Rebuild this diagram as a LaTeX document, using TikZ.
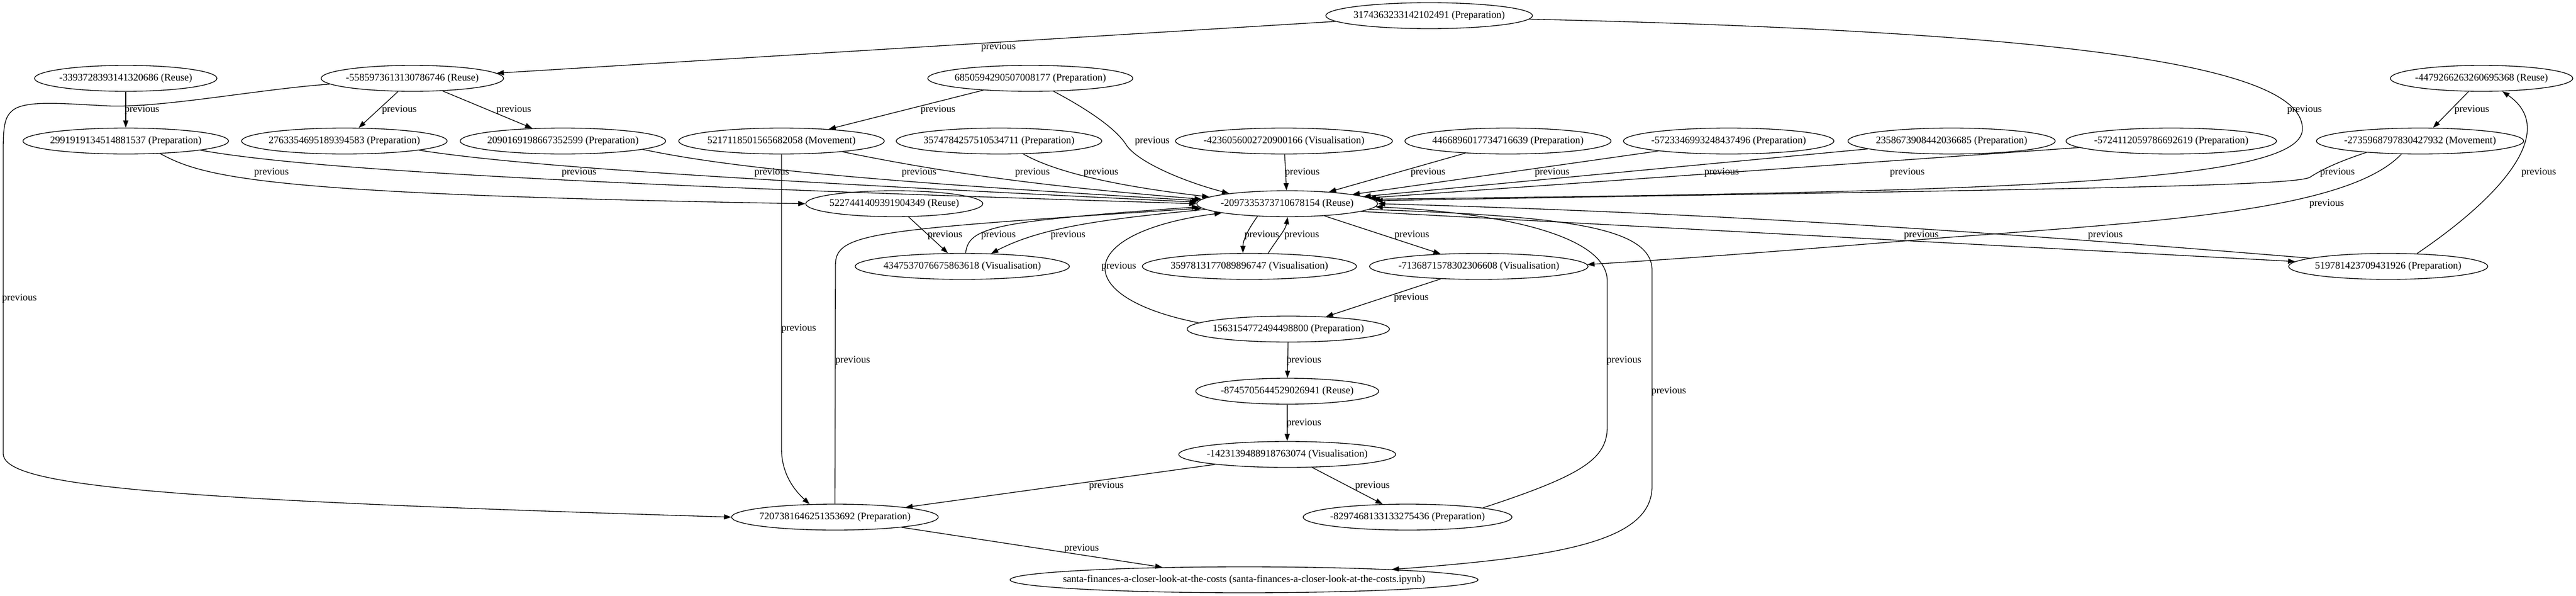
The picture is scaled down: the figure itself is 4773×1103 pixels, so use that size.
\documentclass[tikz,border=0pt]{standalone}
\usepackage{fontspec}
\setmainfont{Liberation Serif}
\usetikzlibrary{shapes.geometric,arrows.meta}
\newcommand{\mbx}[1]{\makebox[0pt]{#1}}
\begin{document}
\begin{tikzpicture}[x=0.75pt,y=-0.75pt,
  nd/.style={draw, ellipse, line width=1pt, minimum width=#1*0.75pt, minimum height=36pt, inner sep=0pt, font=\fontsize{14}{16}\selectfont},
  conn/.style={line width=1pt, -{Triangle[length=10pt,width=7pt]}},
  lbl/.style={inner sep=0pt, font=\fontsize{14}{16}\selectfont}]
\useasboundingbox (0,0) rectangle (4773,1103);
% nodes
\node[nd=383] (nA) at (2648,29) {\mbx{3174363233142102491 (Preparation)}};
\node[nd=338] (nB) at (233,145) {\mbx{-3393728393141320686 (Reuse)}};
\node[nd=338] (nC) at (764,145) {\mbx{-5585973613130786746 (Reuse)}};
\node[nd=380] (nD) at (1909,145) {\mbx{6850594290507008177 (Preparation)}};
\node[nd=338] (nE) at (4598,145) {\mbx{-4479266263260695368 (Reuse)}};
\node[nd=381] (nF) at (233,261) {\mbx{2991919134514881537 (Preparation)}};
\node[nd=381] (nG) at (638,261) {\mbx{2763354695189394583 (Preparation)}};
\node[nd=381] (nH) at (1043,261) {\mbx{2090169198667352599 (Preparation)}};
\node[nd=381] (nI) at (1448,261) {\mbx{5217118501565682058 (Movement)}};
\node[nd=381] (nJ) at (1851,261) {\mbx{3574784257510534711 (Preparation)}};
\node[nd=402] (nK) at (2379,261) {\mbx{-4236056002720900166 (Visualisation)}};
\node[nd=382] (nN) at (2794,261) {\mbx{4466896017734716639 (Preparation)}};
\node[nd=390] (nO) at (3203,261) {\mbx{-5723346993248437496 (Preparation)}};
\node[nd=384] (nP) at (3616,261) {\mbx{2358673908442036685 (Preparation)}};
\node[nd=390] (nQ) at (4023,261) {\mbx{-5724112059786692619 (Preparation)}};
\node[nd=384] (nR) at (4484,261) {\mbx{-2735968797830427932 (Movement)}};
\node[nd=328] (nL) at (1657,377) {\mbx{5227441409391904349 (Reuse)}};
\node[nd=335] (nM) at (2385,377) {\mbx{-2097335373710678154 (Reuse)}};
\node[nd=397] (nS) at (1783,493) {\mbx{4347537076675863618 (Visualisation)}};
\node[nd=397] (nT) at (2315,493) {\mbx{3597813177089896747 (Visualisation)}};
\node[nd=405] (nU) at (2740,493) {\mbx{-7136871578302306608 (Visualisation)}};
\node[nd=369] (nAA) at (4425,493) {\mbx{519781423709431926 (Preparation)}};
\node[nd=375] (nV) at (2387,609) {\mbx{1563154772494498800 (Preparation)}};
\node[nd=339] (nW) at (2385,724) {\mbx{-8745705644529026941 (Reuse)}};
\node[nd=402] (nX) at (2385,841) {\mbx{-1423139488918763074 (Visualisation)}};
\node[nd=383] (nY) at (1547,957) {\mbx{7207381646251353692 (Preparation)}};
\node[nd=387] (nZ) at (2608,957) {\mbx{-8297468133133275436 (Preparation)}};
\node[nd=867] (nEnd) at (2305,1073) {\mbx{santa-finances-a-closer-look-at-the-costs (santa-finances-a-closer-look-at-the-costs.ipynb)}};
% edges
\draw[conn] (nA) -- (nC);
\draw[conn] (nA.-2) .. controls (3900,60) and (4270,130) .. (4266,240) .. controls (4262,340) and (3700,355) .. (nM.3);
\draw[conn] (nB) -- (nF);
\draw[conn] (nC) -- (nG);
\draw[conn] (nC) -- (nH);
\draw[conn] (nC.184) .. controls (480,165) and (300,200) .. (200,196) .. controls (120,192) and (60,186) .. (30,200) .. controls (8,212) and (6,232) .. (6,280) -- (6,840) .. controls (8,900) and (300,925) .. (nY.180);
\draw[conn] (nD) -- (nI);
\draw[conn] (nD.-29) .. controls (2020,205) and (2070,240) .. (2088,270) .. controls (2110,300) and (2190,335) .. (nM.170);
\draw[conn] (nF.-20) .. controls (380,330) and (500,360) .. (nL.180);
\draw[conn] (nF.-7) .. controls (550,310) and (1000,340) .. (nM.180);
\draw[conn] (nG.-7) .. controls (950,305) and (1300,330) .. (nM.179);
\draw[conn] (nH.-6) .. controls (1350,310) and (1600,335) .. (nM.178);
\draw[conn] (nI.-10) .. controls (1800,330) and (2000,350) .. (nM.177);
\draw[conn] (nJ.-28) .. controls (1940,310) and (2030,340) .. (nM.175);
\draw[conn] (nK) -- (nM);
\draw[conn] (nN) -- (nM);
\draw[conn] (nO) -- (nM);
\draw[conn] (nP) -- (nM);
\draw[conn] (nQ) -- (nM);
\draw[conn] (nR.192) .. controls (4330,300) and (4300,315) .. (4280,328) .. controls (4250,345) and (3800,350) .. (nM.2);
\draw[conn] (nR.215) .. controls (4350,390) and (4000,410) .. (3600,440) .. controls (3300,465) and (3100,480) .. (nU.1);
\draw[conn] (nE) -- (nR);
\draw[conn] (nAA.24) .. controls (4640,360) and (4740,240) .. (nE.-32);
\draw[conn] (nM.-6) -- (nAA.177);
\draw[conn] (nAA.174) .. controls (3700,430) and (3200,395) .. (nM.0);
\draw[conn] (nM.203) .. controls (2312,425) and (2303,445) .. (nT.116);
\draw[conn] (nT.35) .. controls (2368,440) and (2382,425) .. (nM.272);
\draw[conn] (nM) -- (nU);
\draw[conn] (nU) -- (nV);
\draw[conn] (nV.176) .. controls (1980,550) and (1990,430) .. (nM.188);
\draw[conn] (nV) -- (nW);
\draw[conn] (nW) -- (nX);
\draw[conn] (nX) -- (nY);
\draw[conn] (nX) -- (nZ);
\draw[conn] (nY) -- (nEnd);
\draw[conn] (nZ.7) .. controls (2930,880) and (2978,850) .. (2978,790) -- (2978,520) .. controls (2978,440) and (2800,395) .. (nM.-2);
\draw[conn] (nM.-4) .. controls (2900,400) and (3061,420) .. (3061,500) -- (3061,900) .. controls (3061,1000) and (2900,1030) .. (nEnd.4);
\draw[conn] (nL) -- (nS);
\draw[conn] (nS.76) .. controls (1795,420) and (1840,410) .. (nM.182);
\draw[conn] (nM.184) .. controls (2050,405) and (1930,420) .. (nS.24);
\draw[conn] (nY.90) -- (1548,490) .. controls (1548,430) and (1620,425) .. (nM.183);
\draw[conn] (nI.270) -- (1448,830) .. controls (1448,880) and (1475,910) .. (nY.153);
% labels
\node[lbl] (t1) at (1850,87) {previous};
\node[lbl] (t2) at (4270,203) {previous};
\node[lbl] (t3) at (263,203) {previous};
\node[lbl] (t4) at (740,203) {previous};
\node[lbl] (t5) at (952,203) {previous};
\node[lbl] (t6) at (36,552) {previous};
\node[lbl] (t7) at (1738,203) {previous};
\node[lbl] (t8) at (2135,261) {previous};
\node[lbl] (t9) at (503,319) {previous};
\node[lbl] (t10) at (1073,319) {previous};
\node[lbl] (t11) at (1430,319) {previous};
\node[lbl] (t12) at (1703,319) {previous};
\node[lbl] (t13) at (1913,319) {previous};
\node[lbl] (t14) at (2040,319) {previous};
\node[lbl] (t15) at (2413,319) {previous};
\node[lbl] (t16) at (2646,319) {previous};
\node[lbl] (t17) at (2876,319) {previous};
\node[lbl] (t18) at (3190,319) {previous};
\node[lbl] (t19) at (3534,319) {previous};
\node[lbl] (t20) at (4331,319) {previous};
\node[lbl] (t21) at (4311,377) {previous};
\node[lbl] (t22) at (4580,203) {previous};
\node[lbl] (t23) at (4704,319) {previous};
\node[lbl] (t24) at (3560,435) {previous};
\node[lbl] (t25) at (3901,435) {previous};
\node[lbl] (t26) at (2338,435) {previous};
\node[lbl] (t27) at (2412,435) {previous};
\node[lbl] (t28) at (2616,435) {previous};
\node[lbl] (t29) at (2615,551) {previous};
\node[lbl] (t30) at (2073,493) {previous};
\node[lbl] (t31) at (2416,667) {previous};
\node[lbl] (t32) at (2416,783) {previous};
\node[lbl] (t33) at (2050,899) {previous};
\node[lbl] (t34) at (2543,899) {previous};
\node[lbl] (t35) at (2004,1015) {previous};
\node[lbl] (t36) at (3009,667) {previous};
\node[lbl] (t37) at (3092,724) {previous};
\node[lbl] (t38) at (1751,435) {previous};
\node[lbl] (t39) at (1850,435) {previous};
\node[lbl] (t40) at (1979,435) {previous};
\node[lbl] (t41) at (1580,667) {previous};
\node[lbl] (t42) at (1480,608) {previous};
\end{tikzpicture}
\end{document}
